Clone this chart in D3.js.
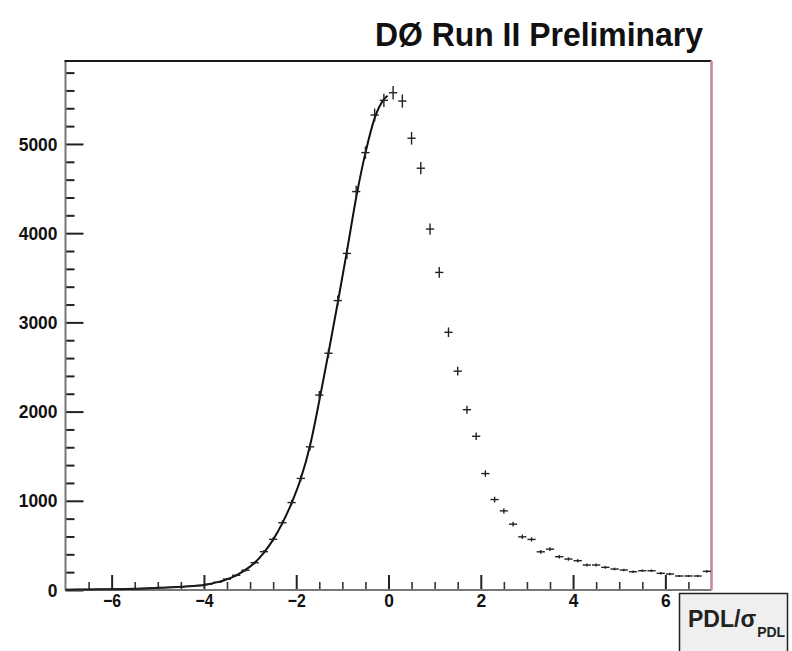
<!DOCTYPE html>
<html>
<head>
<meta charset="utf-8">
<style>
  html, body { margin: 0; padding: 0; background: #fff; }
  svg text { font-family: "Liberation Sans", Arial, sans-serif; }
</style>
<script src="https://d3js.org/d3.v7.min.js"></script>
</head>
<body>
<script>
// histogram bins (centres, width 0.2)
const binX = [-6.9, -6.7, -6.5, -6.3, -6.1, -5.9, -5.7, -5.5, -5.3, -5.1,
              -4.9, -4.7, -4.5, -4.3, -4.1, -3.9, -3.7, -3.5, -3.3, -3.1,
              -2.9, -2.7, -2.5, -2.3, -2.1, -1.9, -1.7, -1.5, -1.3, -1.1,
              -0.9, -0.7, -0.5, -0.3, -0.1,
              0.1, 0.3, 0.5, 0.7, 0.9, 1.1, 1.3, 1.5, 1.7, 1.9,
              2.1, 2.3, 2.5, 2.7, 2.9, 3.1, 3.3, 3.5, 3.7, 3.9,
              4.1, 4.3, 4.5, 4.7, 4.9, 5.1, 5.3, 5.5, 5.7, 5.9,
              6.1, 6.3, 6.5, 6.7, 6.9];
const counts = [4, 5, 6, 7, 8, 10, 12, 15, 18, 22,
                27, 31, 36, 42, 50, 65, 88, 122, 165, 222,
                306, 429, 568, 754, 980, 1251, 1605, 2185, 2654, 3244,
                3773, 4466, 4903, 5324, 5489,
                5574, 5481, 5064, 4728, 4046, 3560, 2889, 2453, 2021, 1723,
                1305, 1014, 887, 738, 596, 567, 428, 458, 373, 347,
                328, 280, 280, 254, 235, 224, 205, 216, 216, 187,
                179, 157, 157, 157, 209];
const binHalf = 0.1;

// fitted curve on the negative side
const fitX = [-7.0, -6.5, -6.0, -5.5, -5.0, -4.5, -4.1, -3.9, -3.7, -3.5,
              -3.3, -3.1, -2.9, -2.7, -2.5, -2.3, -2.1, -1.9, -1.7, -1.5,
              -1.3, -1.1, -0.9, -0.7, -0.5, -0.3, -0.1, -0.02];
const fitY = [3, 6, 9, 14, 24, 36, 50, 65, 88, 120,
              165, 225, 305, 420, 565, 750, 975, 1250, 1620, 2120,
              2660, 3220, 3800, 4400, 4900, 5290, 5500, 5540];

const xMajor = [-6, -4, -2, 0, 2, 4, 6];
const xMinor = [-6.5, -5.5, -5, -4.5, -3.5, -3, -2.5, -1.5, -1, -0.5,
                0.5, 1, 1.5, 2.5, 3, 3.5, 4.5, 5, 5.5, 6.5];
const yMajor = [0, 1000, 2000, 3000, 4000, 5000];
const yMinor = [200, 400, 600, 800, 1200, 1400, 1600, 1800, 2200, 2400, 2600, 2800,
                3200, 3400, 3600, 3800, 4200, 4400, 4600, 4800, 5200, 5400, 5600, 5800];

const title = "DØ Run II Preliminary";
const xTitle = "PDL/σ";
const xTitleSub = "PDL";

const W = 792, H = 651;
const mLeft = 65.5, mRight = 711.5, mTop = 61, mBottom = 590;

const x = d3.scaleLinear().domain([-7, 7]).range([mLeft, mRight]);
const y = d3.scaleLinear().domain([0, 5930]).range([mBottom, mTop]);

const svg = d3.select("body").append("svg")
    .attr("width", W)
    .attr("height", H);

svg.append("rect").attr("width", W).attr("height", H).attr("fill", "#fff");

// title
svg.append("text")
    .attr("x", 375)
    .attr("y", 46)
    .attr("font-size", 34)
    .attr("font-weight", "bold")
    .attr("fill", "#111")
    .attr("textLength", 328)
    .attr("lengthAdjust", "spacingAndGlyphs")
    .text(title);

// condensed bold tick labels, like the ROOT ones
function styleLabels(sel, widthOf) {
  sel.attr("font-size", 19)
    .attr("font-weight", "bold")
    .attr("fill", "#111")
    .style("font-family", "'Liberation Sans', Arial, sans-serif")
    .attr("textLength", widthOf)
    .attr("lengthAdjust", "spacingAndGlyphs");
}

// y axis ticks (inside)
const yAxisMinor = d3.axisLeft(y).tickValues(yMinor).tickSize(-9).tickFormat("");
const yAxisMajor = d3.axisLeft(y).tickValues(yMajor).tickSize(-18).tickPadding(8)
    .tickFormat(d3.format("d"));

svg.append("g").attr("transform", `translate(${mLeft},0)`).call(yAxisMinor)
    .call(g => g.select(".domain").remove())
    .selectAll("line").attr("stroke", "#222").attr("stroke-width", 2);
const gy = svg.append("g").attr("transform", `translate(${mLeft},0)`).call(yAxisMajor);
gy.select(".domain").remove();
gy.selectAll("line").attr("stroke", "#222").attr("stroke-width", 2);
styleLabels(gy.selectAll("text"), d => String(d).length * 9.7);

// x axis ticks (inside)
const xAxisMinor = d3.axisBottom(x).tickValues(xMinor).tickSize(-8).tickFormat("");
const xAxisMajor = d3.axisBottom(x).tickValues(xMajor).tickSize(-15).tickPadding(3)
    .tickFormat(d3.format("d"));

svg.append("g").attr("transform", `translate(0,${mBottom})`).call(xAxisMinor)
    .call(g => g.select(".domain").remove())
    .selectAll("line").attr("stroke", "#333").attr("stroke-width", 1.6);
const gx = svg.append("g").attr("transform", `translate(0,${mBottom})`).call(xAxisMajor);
gx.select(".domain").remove();
gx.selectAll("line").attr("stroke", "#222").attr("stroke-width", 2);
styleLabels(gx.selectAll("text"), d => d < 0 ? 18 : 9.7);

// frame
const frame = svg.append("g");
frame.append("line")
    .attr("x1", x(-7)).attr("x2", x(-7)).attr("y1", y.range()[1]).attr("y2", y(0))
    .attr("stroke", "#777").attr("stroke-width", 2);
frame.append("line")
    .attr("x1", x(-7)).attr("x2", x(7)).attr("y1", y(0)).attr("y2", y(0))
    .attr("stroke", "#777").attr("stroke-width", 2);
frame.append("line")
    .attr("x1", x(-7) - 1).attr("x2", x(7)).attr("y1", y.range()[1]).attr("y2", y.range()[1])
    .attr("stroke", "#1a1a1a").attr("stroke-width", 2.2);
frame.append("line")
    .attr("x1", x(7)).attr("x2", x(7)).attr("y1", y.range()[1]).attr("y2", y(0))
    .attr("stroke", "#c88a92").attr("stroke-width", 2.6);

// fit curve
const fitData = fitX.map((v, i) => [v, fitY[i]]);
svg.append("path")
    .datum(fitData)
    .attr("fill", "none")
    .attr("stroke", "#111")
    .attr("stroke-width", 2)
    .attr("d", d3.line().x(d => x(d[0])).y(d => y(d[1])).curve(d3.curveMonotoneX));

// data points with error bars
const pts = binX.map((v, i) => ({ x: v, n: counts[i] }));
const marks = svg.append("g").attr("stroke", "#222").attr("stroke-width", 1.4);
marks.selectAll("line.h")
    .data(pts).join("line")
    .attr("class", "h")
    .attr("x1", d => x(d.x - binHalf) + 0.5)
    .attr("x2", d => x(d.x + binHalf) - 0.5)
    .attr("y1", d => y(d.n))
    .attr("y2", d => y(d.n));
marks.selectAll("line.v")
    .data(pts).join("line")
    .attr("class", "v")
    .attr("x1", d => x(d.x))
    .attr("x2", d => x(d.x))
    .attr("y1", d => y(d.n + Math.sqrt(d.n)))
    .attr("y2", d => y(Math.max(0, d.n - Math.sqrt(d.n))));

// x-axis title box
const box = svg.append("g");
box.append("rect")
    .attr("x", 679.5).attr("y", 593.5)
    .attr("width", 108).attr("height", 70)
    .attr("fill", "#efefef")
    .attr("stroke", "#222").attr("stroke-width", 1.5);
const lab = box.append("text")
    .attr("x", 688).attr("y", 627)
    .attr("fill", "#222");
lab.append("tspan")
    .attr("font-size", 23)
    .attr("font-weight", "bold")
    .text(xTitle);
lab.append("tspan")
    .attr("font-size", 14)
    .attr("font-weight", "bold")
    .attr("dx", 1)
    .attr("dy", 10)
    .text(xTitleSub);
</script>
</body>
</html>
